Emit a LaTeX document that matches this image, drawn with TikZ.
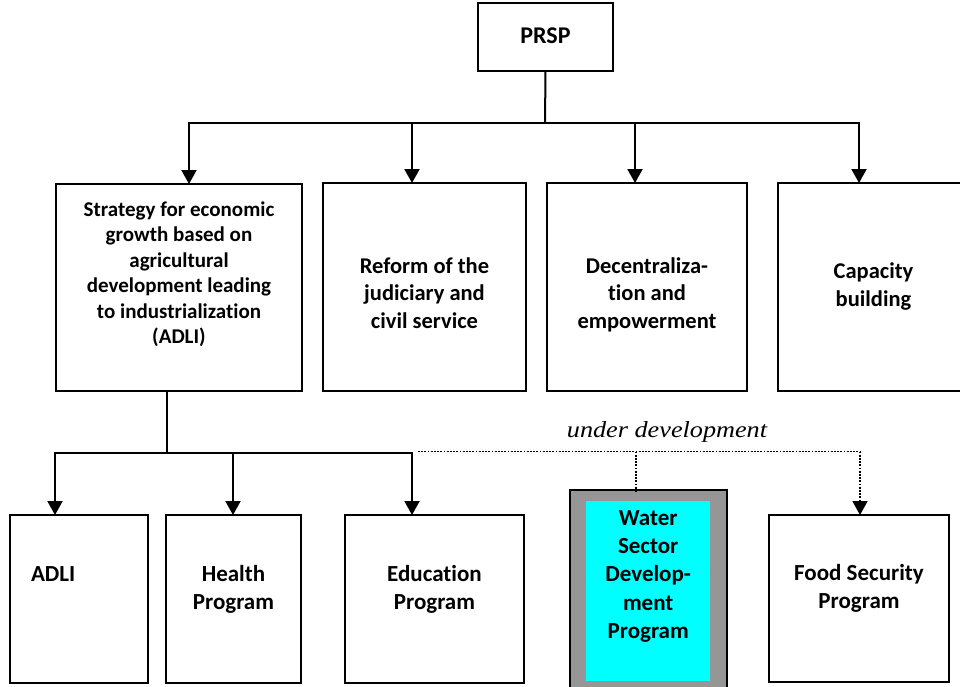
\documentclass[tikz,border=0pt]{standalone}
\usepackage{fontspec}
\setmainfont{Carlito}[Ligatures=NoCommon]
\newfontfamily\itserif{Liberation Serif}
\usepackage{graphicx}
\usetikzlibrary{arrows.meta}
\definecolor{wgray}{RGB}{150,150,150}
\definecolor{wcyan}{RGB}{0,255,255}
\newcommand{\bt}[6]{\begin{minipage}[c][#2pt][t]{#1pt}\centering\fontsize{#3pt}{#4pt}\selectfont\bfseries\vspace*{\dimexpr #5pt-0.7\baselineskip\relax}\strut #6\end{minipage}}
\tikzset{
 box/.style={draw, line width=2pt, inner sep=0pt, outer sep=0pt, anchor=north west},
 conn/.style={line width=2pt},
 arr/.style={line width=2pt, -{Triangle[width=15pt,length=14pt]}},
 dots/.style={line width=1.8pt, dash pattern=on 1.8pt off 1.4pt},
}
\begin{document}
\begin{tikzpicture}[x=1pt,y=-1pt]
\useasboundingbox (0,0) rectangle (960,686);
\clip (0,0) rectangle (960,686);
% top
\node[box] (prsp) at (478,3) {\bt{135}{68}{24}{29}{40}{PRSP}};
% second row
\node[box] (s1) at (56,184) {\bt{246}{207}{21}{25.5}{32}{Strategy for economic\\growth based on\\agricultural\\development leading\\to industrialization\\(ADLI)}};
\node[box] (s2) at (323,183) {\bt{203}{208}{22.5}{27.5}{90}{Reform of the\\judiciary and\\civil service}};
\node[box] (s3) at (547,183) {\bt{200}{208}{22.5}{27.5}{90}{Decentraliza-\\tion and\\empowerment}};
\node[box] (s4) at (778,183) {\bt{191}{208}{22.5}{28.5}{95}{Capacity\\building}};
% bottom row
\node[box] (p1) at (10,515) {\bt{138}{168}{23}{28}{66}{\makebox[0pt][l]{\hspace{-48pt}ADLI}}};
\node[box] (p2) at (166,515) {\bt{135}{168}{23}{28}{66}{Health\\Program}};
\node[box] (p3) at (345,515) {\bt{179}{168}{23}{28}{66}{Education\\Program}};
\node[box, fill=wgray, minimum width=157pt, minimum height=215pt] (wout) at (570,490) {};
\node[anchor=north west, inner sep=0pt, fill=wcyan] (win) at (586,501) {\bt{124}{180}{23}{28.3}{24}{Water\\Sector\\Develop-\\ment\\Program}};
\node[box] (p5) at (769,515) {\bt{180}{167}{23}{28}{65}{Food Security\\Program}};
% label
\node[anchor=base, inner sep=0pt] (ud) at (667,437) {\scalebox{1.14}[1]{\itserif\itshape\fontsize{23pt}{27pt}\selectfont under development}};
% top connectors
\coordinate (t) at (545,123);
\coordinate (a1) at (189,123);
\coordinate (a2) at (412,123);
\coordinate (a3) at (635,123);
\coordinate (a4) at (859,123);
\draw[conn] (prsp.south) -- (t);
\draw[conn, line cap=rect] (a1) -- (a4);
\draw[arr] (a1) -- (a1 |- s1.north);
\draw[arr] (a2) -- (a2 |- s2.north);
\draw[arr] (a3) -- (a3 |- s3.north);
\draw[arr] (a4) -- (a4 |- s4.north);
% bottom connectors
\coordinate (bj) at (167,453);
\coordinate (c1) at (55,453);
\coordinate (c2) at (233,453);
\coordinate (c3) at (412,453);
\draw[conn] (bj |- s1.south) -- (bj);
\draw[conn, line cap=rect] (c1) -- (c3);
\draw[arr] (c1) -- (c1 |- p1.north);
\draw[arr] (c2) -- (c2 |- p2.north);
\draw[arr] (c3) -- (c3 |- p3.north);
% dotted connectors
\coordinate (d1) at (418,451.5);
\coordinate (d2) at (636,451.5);
\coordinate (d3) at (860,451.5);
\draw[dots] (d1) -- (d3);
\draw[dots] (d2) -- ([yshift=-3pt]d2 |- wout.north);
\draw[dots, -{Triangle[width=15pt,length=14pt]}] (d3) -- (d3 |- p5.north);
\end{tikzpicture}
\end{document}
